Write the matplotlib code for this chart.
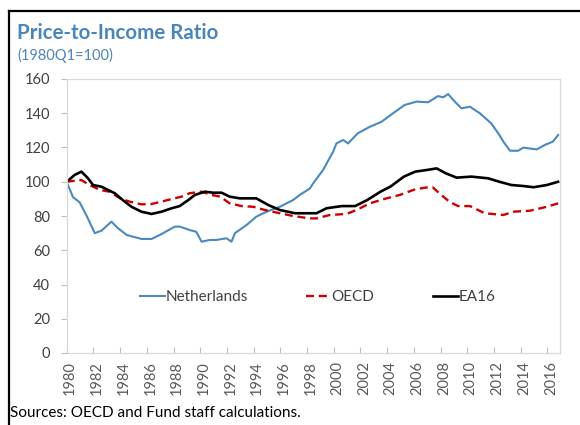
import matplotlib
matplotlib.use("Agg")
import matplotlib.pyplot as plt
from matplotlib.lines import Line2D
import matplotlib.transforms as mtransforms

plt.rcParams['font.family'] = ['Lato', 'DejaVu Sans']

# ---- data ----
nl_years = [1980.0, 1980.47, 1980.97, 1981.5, 1982.1, 1982.6, 1983.35, 1983.85, 1984.5, 1985.6,
            1986.35, 1986.97, 1988.1, 1988.46, 1988.85, 1989.2, 1989.7, 1990.1, 1990.7, 1991.2,
            1991.96, 1992.34, 1992.6, 1993.46, 1994.2, 1994.96, 1995.96, 1996.95, 1997.45, 1998.2,
            1998.45, 1999.2, 1999.95, 2000.2, 2000.7, 2001.07, 2001.8, 2002.7, 2003.57, 2004.44,
            2005.3, 2006.2, 2007.06, 2007.8, 2008.2, 2008.56, 2009.06, 2009.56, 2010.2, 2010.94,
            2011.8, 2012.4, 2012.7, 2013.2, 2013.8, 2014.2, 2015.2, 2015.8, 2016.4, 2016.8]
nl_values = [100, 91, 88, 80, 70, 71.4, 76.7, 72.8, 68.9, 66.6,
             66.6, 68.9, 73.8, 73.8, 72.8, 71.8, 70.8, 65, 66, 66,
             67, 65, 70, 74.7, 79.6, 82.5, 85.4, 89.3, 92.3, 96,
             99, 106.9, 117.5, 122.4, 124.4, 122.4, 128.3, 132.1, 135, 140,
             144.8, 146.8, 146.4, 150, 149.3, 151.2, 146.8, 142.9, 143.8, 140,
             134, 127.3, 123.4, 118.1, 118.1, 119.9, 118.9, 121.5, 123.4, 127.3]

oecd_years = [1980.0, 1980.6, 1981.1, 1981.7, 1982.5, 1983.2, 1984.0, 1984.7, 1985.6, 1986.35,
              1987.1, 1987.85, 1988.6, 1989.2, 1990.1, 1990.85, 1991.5, 1992.2, 1993.1, 1993.96,
              1994.84, 1995.96, 1996.95, 1998.2, 1998.7, 1999.7, 2000.95, 2001.7, 2002.7, 2003.95,
              2004.95, 2006.1, 2007.06, 2007.4, 2007.9, 2008.65, 2009.3, 2010.2, 2011.3, 2012.7,
              2013.45, 2014.7, 2015.96, 2016.8]
oecd_values = [100, 100.6, 101, 98.1, 95.2, 94.2, 90.3, 88.4, 86.8, 87,
               88.4, 89.9, 91.3, 93.3, 94.2, 92.3, 91.3, 87.4, 85.8, 85.4,
               83.5, 81.6, 80, 78.6, 78.6, 80.6, 81.2, 83.5, 87.4, 90.3,
               92.3, 95.6, 96.8, 96.8, 93.3, 88.4, 85.8, 85.8, 81.6, 80.6,
               82.5, 83.1, 85.4, 87.4]

ea_years = [1980.0, 1980.6, 1981.1, 1981.6, 1981.97, 1982.6, 1983.1, 1983.6, 1984.2, 1984.85,
            1985.6, 1986.35, 1987.1, 1987.85, 1988.46, 1989.1, 1989.6, 1990.35, 1990.97, 1991.6,
            1992.2, 1992.97, 1994.2, 1995.1, 1995.96, 1997.1, 1998.2, 1998.7, 1999.45, 2000.6,
            2001.6, 2002.5, 2003.5, 2004.25, 2005.25, 2006.1, 2007.0, 2007.7, 2008.4, 2009.2,
            2010.3, 2011.56, 2012.4, 2013.3, 2014.2, 2014.96, 2015.96, 2016.8]
ea_values = [100, 104, 105.9, 102, 98.1, 97.1, 95.2, 93.3, 89.3, 85.4,
             82.5, 81.2, 82.5, 84.5, 85.8, 89.3, 92.3, 94.2, 93.6, 93.6,
             91.3, 90.3, 90.3, 86.4, 83.5, 81.6, 81.6, 81.6, 84.5, 85.8,
             85.8, 89.3, 94.2, 97.2, 103, 105.9, 106.9, 107.8, 104.9, 102.4,
             103, 102, 100, 98.1, 97.5, 96.8, 98.1, 100]

x_tick_years = list(range(1980, 2017, 2))
y_ticks = [0, 20, 40, 60, 80, 100, 120, 140, 160]

title = "Price-to-Income Ratio"
subtitle = "(1980Q1=100)"
source = "Sources: OECD and Fund staff calculations."

# ---- figure ----
W, H = 580, 425
fig = plt.figure(figsize=(W / 100, H / 100), dpi=100)
ax = fig.add_axes([66.7 / W, (H - 353) / H, (560 - 66.7) / W, (353 - 79) / H])

blue = "#4A89BD"
red = "#CC0000"
ax.plot(nl_years, nl_values, color=blue, lw=1.5, label="Netherlands", solid_joinstyle='round')
ax.plot(oecd_years, oecd_values, color=red, lw=1.7, ls=(0, (3.4, 2.0)), label="OECD")
ax.plot(ea_years, ea_values, color="black", lw=1.9, label="EA16", solid_joinstyle='round')

ax.set_xlim(1980, 2016.94)
ax.set_ylim(0, 160)
ax.set_yticks(y_ticks)
ax.set_xticks(x_tick_years)
ax.set_xticklabels([str(y) for y in x_tick_years], rotation=90)

for s in ax.spines.values():
    s.set_color("#D9D9D9")
    s.set_linewidth(0.9)
ax.tick_params(axis='y', direction='out', length=4, color="#BFBFBF", width=0.8,
               labelsize=10.5, labelcolor="#404040", pad=8)
ax.tick_params(axis='x', direction='in', length=4, color="#BFBFBF", width=0.8,
               labelsize=10.5, labelcolor="#595959", pad=6)
offset = mtransforms.ScaledTranslation(3.5 / 100, 0, fig.dpi_scale_trans)
for lab in ax.get_xticklabels():
    lab.set_transform(lab.get_transform() + offset)

leg = ax.legend(loc='center', bbox_to_anchor=(0.509, 1 - (297 - 79) / (353 - 79)),
                ncol=3, frameon=False, fontsize=11, handlelength=1.6, handletextpad=0.05,
                columnspacing=3.85, labelcolor="#404040")

# titles
fig.text(17 / W, 1 - 33 / H, title, fontsize=14.8, fontweight='bold', color="#4A86B8",
         va='center', ha='left')
fig.text(17 / W, 1 - 55 / H, subtitle, fontsize=10.5, color="#4A86B8", va='center', ha='left')
fig.text(10 / W, 1 - 413 / H, source, fontsize=11, color="black", va='center', ha='left')

# outer frame lines (top and left)
fig.add_artist(Line2D([8.5 / W, 1], [1 - 10.5 / H, 1 - 10.5 / H], color='black', lw=1.6,
                      transform=fig.transFigure))
fig.add_artist(Line2D([8.5 / W, 8.5 / W], [0, 1 - 10.5 / H], color='black', lw=1.6,
                      transform=fig.transFigure))

fig.savefig("out.png", dpi=100)
